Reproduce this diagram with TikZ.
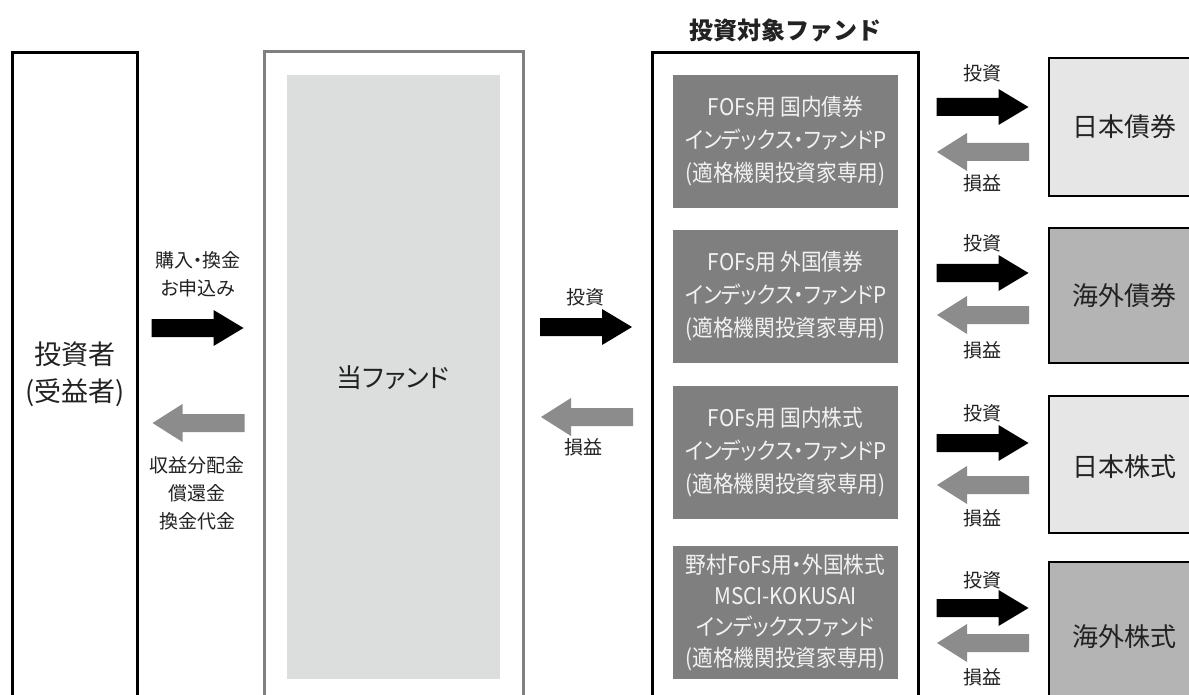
\documentclass[tikz,border=0pt]{standalone}
\usepackage{fontspec}
\newfontfamily\jp[RawFeature=+palt]{Noto Sans CJK JP}
\newfontfamily\jpc[RawFeature=+palt, FakeStretch=0.9]{Noto Sans CJK JP}
\newfontfamily\jpf{Noto Sans CJK JP}
\definecolor{dkbox}{HTML}{7F7F7F}
\definecolor{garr}{HTML}{8C8C8C}
\definecolor{innerfill}{HTML}{DCDDDD}
\definecolor{ltbox}{HTML}{E6E6E6}
\definecolor{mdbox}{HTML}{B4B4B4}
\definecolor{frame}{HTML}{808080}
\definecolor{txt}{HTML}{222222}
\definecolor{wtxt}{HTML}{F2F2F2}
\tikzset{
  fwd/.pic={\fill[black] (-46,-9) -- (16,-9) -- (16,-18) -- (46,0) -- (16,18) -- (16,9) -- (-46,9) -- cycle;},
  back/.pic={\fill[garr] (46,-9) -- (-16,-9) -- (-16,-19) -- (-46,0) -- (-16,19) -- (-16,9) -- (46,9) -- cycle;},
  fundbox/.style={draw=none, fill=dkbox, minimum width=225, minimum height=133, inner sep=0},
  fundtxt/.style={text=wtxt, align=center, font=\jpc\fontsize{23}{33}\selectfont},
  assetbox/.style={draw=black, line width=2.5pt, minimum width=161, inner sep=0},
  assettxt/.style={text=txt, font=\jp\fontsize{26}{30}\selectfont},
  lbl/.style={text=txt, align=center, font=\jp\fontsize{19}{28}\selectfont, inner sep=0},
}
\begin{document}
\begin{tikzpicture}[x=1pt, y=-1pt]
\useasboundingbox (0,0) rectangle (1189,695);
\clip (0,0) rectangle (1189,695);
\fill[white] (0,0) rectangle (1189,695);

% investor box
\node[draw=black, line width=3pt, minimum width=125, minimum height=680, inner sep=0] (inv) at (74.5,393) {};
\node[text=txt, align=center, font=\jp\fontsize{27}{37}\selectfont] (invt) at (75,374) {投資者\\(受益者)};

% this fund
\node[draw=frame, line width=3pt, minimum width=259, minimum height=680, inner sep=0] (fund) at (393.5,392) {};
\node[fill=innerfill, minimum width=213, minimum height=604, inner sep=0] (fundin) at (393.5,377) {};
\node[text=txt, font=\jp\fontsize{26}{30}\selectfont] (fundt) at (393,378) {当ファンド};

% target funds frame
\node[font=\jpf\bfseries\fontsize{24}{28}\selectfont, text=txt] (title) at (785,30) {投資対象ファンド};
\node[draw=black, line width=3pt, minimum width=266, minimum height=680, inner sep=0] (tgt) at (785,393) {};

\node[fundbox] (f1) at (785.5,141.5) {};
\node[fundtxt] at (f1) {FOFs用 国内債券\\インデックス・ファンドP\\(適格機関投資家専用)};
\node[fundbox] (f2) at (785.5,296.5) {};
\node[fundtxt] at (f2) {FOFs用 外国債券\\インデックス・ファンドP\\(適格機関投資家専用)};
\node[fundbox] (f3) at (785.5,452.5) {};
\node[fundtxt] at (f3) {FOFs用 国内株式\\インデックス・ファンドP\\(適格機関投資家専用)};
\node[fundbox] (f4) at (785.5,612.5) {};
\node[fundtxt, font=\jpc\fontsize{23}{31}\selectfont] at (f4) {野村FoFs用・外国株式\\MSCI-KOKUSAI\\インデックスファンド\\(適格機関投資家専用)};

% asset boxes
\node[assetbox, fill=ltbox, minimum height=138] (a1) at (1129.5,127) {};
\node[assettxt] at (1124,127) {日本債券};
\node[assetbox, fill=mdbox, minimum height=135] (a2) at (1129.5,295.5) {};
\node[assettxt] at (1124,296) {海外債券};
\node[assetbox, fill=ltbox, minimum height=137] (a3) at (1129.5,464.5) {};
\node[assettxt] at (1124,467) {日本株式};
\node[assetbox, fill=mdbox, minimum height=150] (a4) at (1129.5,637) {};
\node[assettxt] at (1124,637) {海外株式};

% left arrows
\node[lbl] (l1) at (198,274) {購入・換金\\お申込み};
\pic (la1) at (197.5,328) {fwd};
\pic (la2) at (198.5,423) {back};
\node[lbl] (l2) at (197,493) {収益分配金\\償還金\\換金代金};

% middle arrows
\node[lbl] (m1) at (585,297) {投資};
\pic (ma1) at (586,327) {fwd};
\pic (ma2) at (587,417) {back};
\node[lbl] (m2) at (583,447) {損益};

% right arrows
\foreach \i/\a/\b/\c/\d in {1/73/107/152/183, 2/243/273/315/350, 3/413/443/485/518, 4/580/608/643/677}{
  \node[lbl] (ri\i) at (982,\a) {投資};
  \pic (rf\i) at (982.5,\b) {fwd};
  \pic (rb\i) at (983,\c) {back};
  \node[lbl] (rl\i) at (982,\d) {損益};
}
\end{tikzpicture}
\end{document}
